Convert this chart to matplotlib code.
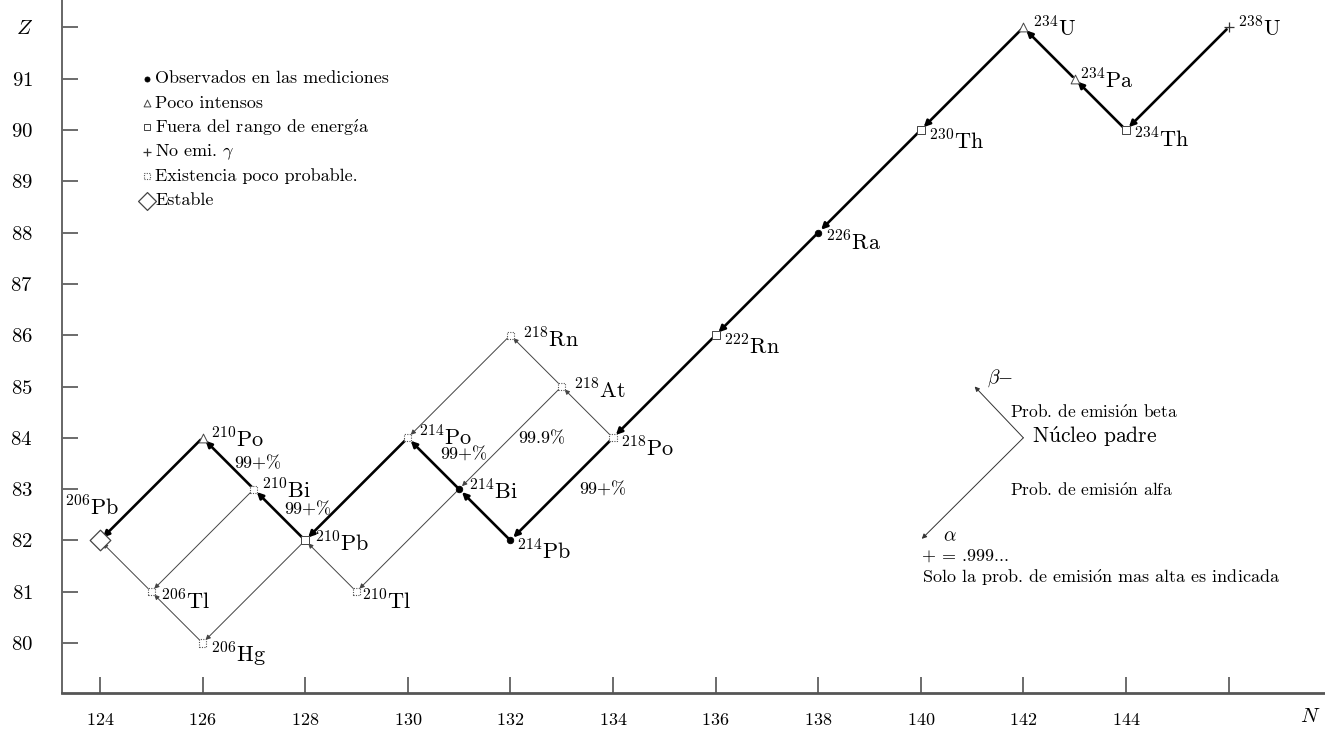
import matplotlib.pyplot as plt
import numpy as np

plt.rcParams['font.family'] = ['cmr10', 'DejaVu Serif']
plt.rcParams['mathtext.fontset'] = 'cm'
plt.rcParams['axes.formatter.use_mathtext'] = True
plt.rcParams['axes.unicode_minus'] = False

# Serie radiactiva del 238U: símbolo, número másico, N, Z y tipo de observación
simbolos = ['U', 'Th', 'Pa', 'U', 'Th', 'Ra', 'Rn', 'Po', 'At', 'Rn',
            'Pb', 'Bi', 'Po', 'Tl', 'Pb', 'Bi', 'Po', 'Tl', 'Hg', 'Pb']
masas = [238, 234, 234, 234, 230, 226, 222, 218, 218, 218,
         214, 214, 214, 210, 210, 210, 210, 206, 206, 206]
N = [146, 144, 143, 142, 140, 138, 136, 134, 133, 132,
     132, 131, 130, 129, 128, 127, 126, 125, 126, 124]
Z = [92, 90, 91, 92, 90, 88, 86, 84, 85, 86,
     82, 83, 84, 81, 82, 83, 84, 81, 80, 82]
tipos = ['noemi', 'fuera', 'poco', 'poco', 'fuera', 'obs', 'fuera', 'improb', 'improb', 'improb',
         'obs', 'obs', 'improb', 'improb', 'fuera', 'improb', 'poco', 'improb', 'improb', 'estable']

# cadena principal (trazo grueso) y ramas poco probables (trazo fino)
cadena = [('238U', '234Th'), ('234Th', '234Pa'), ('234Pa', '234U'), ('234U', '230Th'),
          ('230Th', '226Ra'), ('226Ra', '222Rn'), ('222Rn', '218Po'), ('218Po', '214Pb'),
          ('214Pb', '214Bi'), ('214Bi', '214Po'), ('214Po', '210Pb'), ('210Pb', '210Bi'),
          ('210Bi', '210Po'), ('210Po', '206Pb')]
ramas = [('218Po', '218At'), ('218At', '218Rn'), ('218At', '214Bi'), ('218Rn', '214Po'),
         ('214Bi', '210Tl'), ('210Tl', '210Pb'), ('210Pb', '206Hg'), ('206Hg', '206Tl'),
         ('210Bi', '206Tl'), ('206Tl', '206Pb')]

# probabilidades de emisión indicadas
prob_textos = ['99+%', '99+%', '99+%', '99.9%', '99+%']
prob_N = [127.08, 128.05, 131.10, 132.62, 133.80]
prob_Z = [83.49, 82.59, 83.66, 83.98, 82.98]

leyenda_tipos = ['obs', 'poco', 'fuera', 'noemi', 'improb', 'estable']
leyenda_textos = ['Observados en las mediciones', 'Poco intensos',
                  r'Fuera del rango de energ$\mathrm{\acute{\imath}}$a',
                  r'No emi. $\gamma$', 'Existencia poco probable.', 'Estable']

x_ticks = list(range(124, 147, 2))
x_labels = [r'$\mathbf{%d}$' % v for v in range(124, 145, 2)] + ['']
y_ticks = list(range(80, 93))
y_labels = [r'$\mathbf{%d}$' % v for v in range(80, 92)] + [r'$Z$']

claves = [f'{a}{s}' for a, s in zip(masas, simbolos)]
pos = {k: (n, z) for k, n, z in zip(claves, N, Z)}

# desplazamiento de cada etiqueta respecto a su núcleo (puntos)
desp = {'238U': (7, -1), '234U': (7, -1), '234Pa': (4, -1), '234Th': (6, -7),
        '230Th': (6, -8), '226Ra': (6, -7), '222Rn': (6, -8), '218Po': (6, -8),
        '218At': (9, -3), '218Rn': (9, -3), '214Pb': (5, -8), '214Bi': (7, -2),
        '214Po': (8, 0), '210Tl': (4, -7), '210Pb': (7, -2), '210Bi': (6, -1),
        '210Po': (6, -1), '206Tl': (7, -7), '206Hg': (6, -9), '206Pb': (-25, 24)}

estilos = {
    'obs': dict(marker='o', s=22, facecolor='black', edgecolor='black', linewidths=0.6),
    'poco': dict(marker='^', s=40, facecolor='white', edgecolor='#444444', linewidths=0.7),
    'fuera': dict(marker='s', s=32, facecolor='white', edgecolor='#444444', linewidths=0.7),
    'noemi': dict(marker='+', s=50, color='#333333', linewidths=0.9),
    'improb': dict(marker='s', s=26, facecolor='white', edgecolor='#555555',
                   linewidths=0.8, linestyles=(0, (1, 1.2))),
    'estable': dict(marker='D', s=110, facecolor='white', edgecolor='#444444', linewidths=0.9),
}

fig = plt.figure(figsize=(13.25, 7.34), dpi=100)
ax = fig.add_axes([62 / 1325, 41 / 734, 1263 / 1325, 693 / 734])
ax.set_xlim(123.26, 147.88)
ax.set_ylim(79.025, 92.535)

for sp in ['top', 'right']:
    ax.spines[sp].set_visible(False)
ax.spines['left'].set_color('#666666')
ax.spines['left'].set_linewidth(1.4)
ax.spines['bottom'].set_color('#555555')
ax.spines['bottom'].set_linewidth(2.0)

ax.set_xticks(x_ticks)
ax.set_xticklabels(x_labels, fontsize=13)
ax.set_yticks(y_ticks)
ax.set_yticklabels(y_labels, fontsize=15)
ax.tick_params(axis='both', direction='in', length=11.5, width=1.1, color='#444444')
ax.tick_params(axis='x', pad=14)
ax.tick_params(axis='y', pad=21)

# desintegraciones
for lista, lw, col in [(cadena, 1.9, 'black'), (ramas, 0.7, '#444444')]:
    for padre, hija in lista:
        ax.annotate('', xy=pos[hija], xytext=pos[padre],
                    arrowprops=dict(arrowstyle='-|>', lw=lw, color=col,
                                    shrinkA=2, shrinkB=3, mutation_scale=9 if lw > 1 else 7),
                    zorder=2)

# núcleos
N_arr = np.array(N)
Z_arr = np.array(Z)
tipos_arr = np.array(tipos)
for t, est in estilos.items():
    m = tipos_arr == t
    ax.scatter(N_arr[m], Z_arr[m], zorder=4, **est)

for k, n, z in zip(claves, N, Z):
    a, s = k[:3], k[3:]
    ax.annotate(r'$^{%s}\mathrm{%s}$' % (a, s), xy=(n, z), xytext=desp[k],
                textcoords='offset points', fontsize=16, ha='left', va='center', zorder=5)

for txt, n, z in zip(prob_textos, prob_N, prob_Z):
    ax.text(n, z, txt, fontsize=13, ha='center', va='center', zorder=5)

# leyenda
ley_x = 124.92
ley_y = 91.0 - 0.475 * np.arange(len(leyenda_tipos))
for t, txt, y in zip(leyenda_tipos, leyenda_textos, ley_y):
    est = dict(estilos[t])
    est['s'] = est['s'] * (0.6 if t != 'estable' else 0.75)
    ax.scatter([ley_x], [y], zorder=4, **est)
    ax.text(ley_x + 0.16, y, txt, fontsize=13, ha='left', va='center')

# esquema explicativo
padre = (142, 84)
ax.annotate('', xy=(141.05, 85.0), xytext=padre,
            arrowprops=dict(arrowstyle='-|>', lw=0.7, color='#333333', shrinkA=0, shrinkB=0,
                            mutation_scale=7))
ax.annotate('', xy=(140.02, 82.03), xytext=padre,
            arrowprops=dict(arrowstyle='-|>', lw=0.7, color='#333333', shrinkA=0, shrinkB=0,
                            mutation_scale=7))
ax.text(141.54, 85.17, r'$\beta{-}$', fontsize=14, ha='center', va='center')
ax.text(141.74, 84.50, r'Prob. de emisi$\mathrm{\acute{o}}$n beta', fontsize=12.5,
        ha='left', va='center')
ax.text(142.17, 84.02, r'N$\mathrm{\acute{u}}$cleo padre', fontsize=15.5, ha='left', va='center')
ax.text(141.74, 82.98, r'Prob. de emisi$\mathrm{\acute{o}}$n alfa', fontsize=12.5,
        ha='left', va='center')
ax.text(140.57, 82.09, r'$\alpha$', fontsize=14, ha='center', va='center')
ax.text(140.02, 81.70, '+ = .999...', fontsize=13, ha='left', va='center')
ax.text(140.02, 81.27, r'Solo la prob. de emisi$\mathrm{\acute{o}}$n mas alta es indicada',
        fontsize=13, ha='left', va='center')

ax.text(147.59, 78.55, r'$N$', fontsize=15, ha='center', va='center', clip_on=False)

fig.savefig('out.png', dpi=100)
